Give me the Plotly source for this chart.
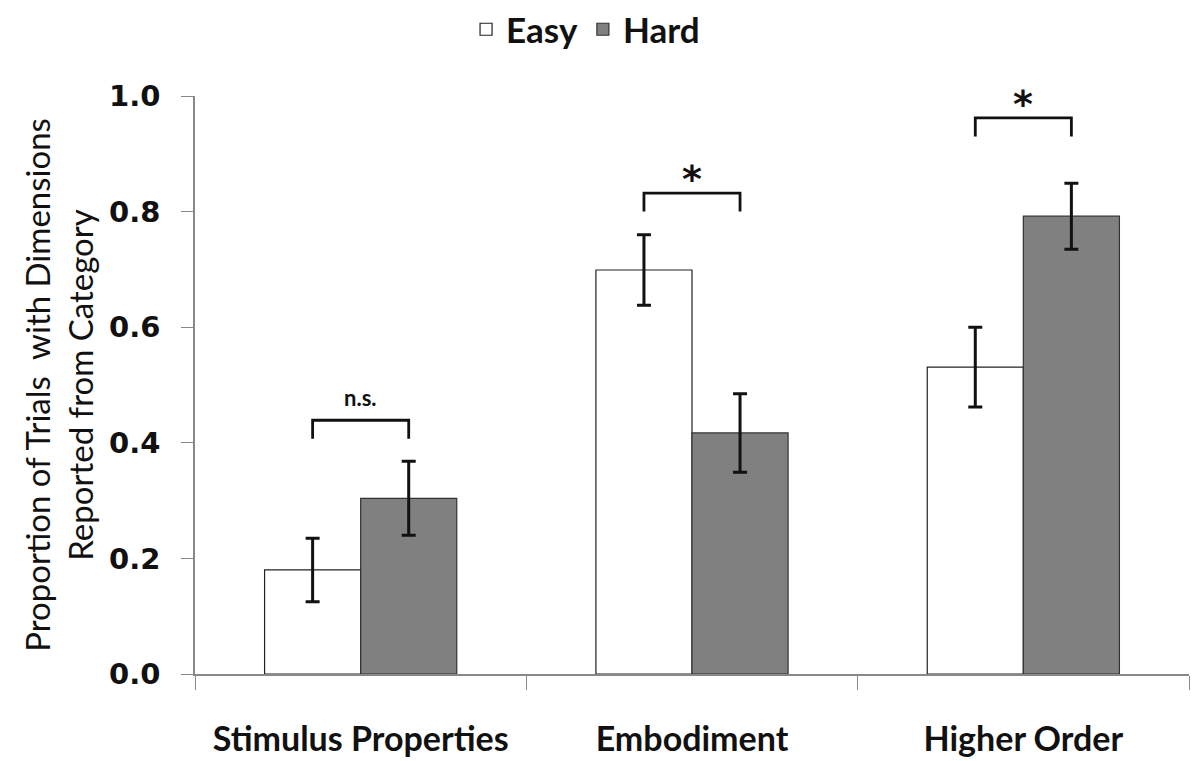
import plotly.graph_objects as go

# Categories and group means with standard errors
categories = ["Stimulus Properties", "Embodiment", "Higher Order"]
easy_vals = [0.18, 0.699, 0.531]
easy_err = [0.055, 0.061, 0.069]
hard_vals = [0.304, 0.417, 0.792]
hard_err = [0.064, 0.068, 0.057]

# Significance brackets: label per category and height of bracket bar
sig_labels = ["n.s.", "*", "*"]
bracket_top = [0.439, 0.832, 0.962]
bracket_drop = 0.032

fig = go.Figure()
fig.add_trace(go.Bar(
    name="Easy", x=categories, y=easy_vals,
    marker=dict(color="white", line=dict(color="#222222", width=1.2)),
    error_y=dict(type="data", array=easy_err, color="#111111", thickness=3, width=7),
))
fig.add_trace(go.Bar(
    name="Hard", x=categories, y=hard_vals,
    marker=dict(color="#808080", line=dict(color="#333333", width=1.2)),
    error_y=dict(type="data", array=hard_err, color="#111111", thickness=3, width=7),
))

bargap = 0.42
half = (1 - bargap) / 4  # offset of each bar centre from category centre

for i, (lab, top) in enumerate(zip(sig_labels, bracket_top)):
    x0, x1 = i - half, i + half
    fig.add_shape(type="path",
                  path=f"M {x0},{top - bracket_drop} L {x0},{top} L {x1},{top} L {x1},{top - bracket_drop}",
                  xref="x", yref="y", line=dict(color="#111111", width=2.8))
    big = lab == "*"
    fig.add_annotation(x=i, y=top, xref="x", yref="y", text=f"<b>{lab}</b>",
                       showarrow=False, yanchor="bottom", yshift=(-10 if big else 7),
                       font=dict(family=("DejaVu Sans, sans-serif" if big else "Lato, Open Sans, sans-serif"),
                                 size=(38 if big else 22), color="#111111"))

fig.update_layout(
    width=1195, height=761,
    margin=dict(l=195, r=6, t=96, b=87),
    paper_bgcolor="white", plot_bgcolor="white",
    barmode="group", bargap=bargap, bargroupgap=0,
    showlegend=True,
    legend=dict(orientation="h", xref="container", x=0.49, xanchor="center",
                yref="container", y=1.0, yanchor="top",
                font=dict(family="Lato, Open Sans, sans-serif", size=35, color="#111111", weight="bold"),
                itemwidth=30, traceorder="normal"),
    xaxis=dict(type="category", range=[-0.5, 2.5], tickson="boundaries", automargin=False,
               ticks="outside", ticklen=14, tickcolor="#888888", tickwidth=1,
               showline=True, linecolor="#888888", linewidth=1.5, showgrid=False,
               tickfont=dict(family="Lato, Open Sans, sans-serif", size=34, color="#111111", weight="bold"),
               ticklabelstandoff=34),
    yaxis=dict(range=[0, 1.0], tickvals=[0, 0.2, 0.4, 0.6, 0.8, 1.0], automargin=False,
               ticktext=["0.0", "0.2", "0.4", "0.6", "0.8", "1.0"],
               ticks="outside", ticklen=12, tickcolor="#888888", tickwidth=1,
               showline=True, linecolor="#888888", linewidth=1.5, showgrid=False,
               zeroline=False, ticklabelstandoff=15,
               tickfont=dict(family="DejaVu Sans, sans-serif", size=29, color="#111111", weight="bold"),
               title=dict(text="Proportion of Trials  with Dimensions<br>Reported from Category",
                          standoff=6,
                          font=dict(family="Lato, Open Sans, sans-serif", size=33, color="#111111"))),
)

fig.write_html("out.html")
